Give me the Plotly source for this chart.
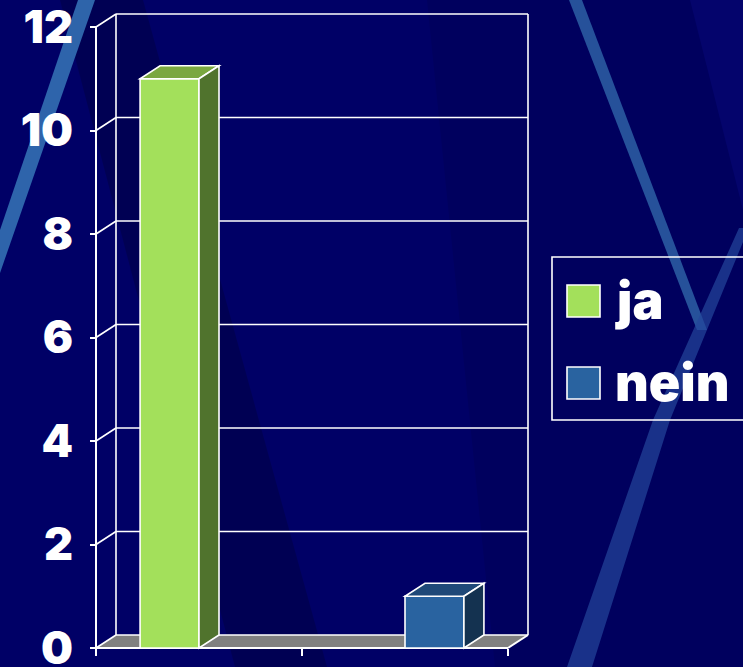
import plotly.graph_objects as go

# ---------------- data ----------------
categories = ["", " "]
series_names = ["ja", "nein"]
ja_values = [11, None]
nein_values = [None, 1]
y_ticks = [0, 2, 4, 6, 8, 10, 12]
y_max = 12

# ---------------- style ----------------
BG = "#000066"
WHITE = "#ffffff"
FLOOR = "#808080"
colors = {
    "ja": {"front": "#a3e05b", "top": "#7aa840", "side": "#50732d"},
    "nein": {"front": "#2963a0", "top": "#1f4978", "side": "#143250"},
}
FONT = dict(family="Inter, DejaVu Sans", size=45, color=WHITE, weight=900)

W, H = 743, 667
# pixel geometry of the pseudo-3D plane
X0_PX, CAT_PX = 96, 206        # front-left corner, width of a category
Y0_PX, UNIT_PX = 648, 51.75    # front floor line, pixels per unit
DEPTH_X_PX, DEPTH_Y_PX = 20, 13
BARGAP = 0.428

DX = DEPTH_X_PX / CAT_PX
DY = DEPTH_Y_PX / UNIT_PX
n_cat = len(categories)
x_range = [-X0_PX / CAT_PX, (W - X0_PX) / CAT_PX]
y_range = [(Y0_PX - H) / UNIT_PX, Y0_PX / UNIT_PX]


def px(x):
    return x / W


def py(y):
    return 1 - y / H


fig = go.Figure()
shapes = []

# ---------------- background streaks (decoration) ----------------
def poly(points, color, layer="below"):
    path = "M " + " L ".join(f"{px(a)},{py(b)}" for a, b in points) + " Z"
    return dict(type="path", xref="paper", yref="paper", path=path,
                fillcolor=color, line=dict(width=0), layer=layer)

shapes += [
    poly([(60, 0), (143, 0), (327, 667), (235, 667)], "rgba(0,0,0,0.18)"),
    poly([(427, 0), (743, 0), (743, 667), (495, 667)], "rgba(0,0,0,0.08)"),
    poly([(690, 0), (743, 0), (743, 210)], "rgba(20,20,160,0.22)"),
    poly([(78, 0), (95, 0), (0, 273), (0, 230)], "rgba(48,105,175,0.95)"),
    poly([(569, 0), (582, 0), (707, 330), (697, 330)], "rgba(45,95,165,0.85)"),
    poly([(739, 228), (743, 228), (743, 242), (670, 420), (592, 667), (567, 667), (653, 420)],
         "rgba(35,70,155,0.7)"),
]

# ---------------- 3D frame (data coordinates) ----------------
def dpath(points):
    return "M " + " L ".join(f"{a},{b}" for a, b in points) + " Z"

# floor
shapes.append(dict(type="path", xref="x", yref="y",
                   path=dpath([(0, 0), (n_cat, 0), (n_cat + DX, DY), (DX, DY)]),
                   fillcolor=FLOOR, line=dict(width=0), layer="below"))
LW = 1.6
def seg(x0, y0, x1, y1, w=LW, layer="below"):
    return dict(type="line", xref="x", yref="y", x0=x0, y0=y0, x1=x1, y1=y1,
                line=dict(color=WHITE, width=w), layer=layer)

for v in y_ticks:
    shapes.append(seg(DX, v + DY, n_cat + DX, v + DY))     # back-wall gridline
    shapes.append(seg(0, v, DX, v + DY))                   # side-wall connector
shapes.append(seg(DX, DY, DX, y_max + DY))
shapes.append(seg(n_cat + DX, DY, n_cat + DX, y_max + DY))
shapes.append(seg(0, 0, 0, y_max, w=2))
shapes.append(seg(0, 0, n_cat, 0, w=2))
shapes.append(seg(n_cat, 0, n_cat + DX, DY, w=2))

# ---------------- bars ----------------
x_pos = [i + 0.5 for i in range(n_cat)]
bar_w = (1 - BARGAP) / len(series_names)
for j, (name, vals) in enumerate(zip(series_names, [ja_values, nein_values])):
    off = -(1 - BARGAP) / 2 + j * bar_w
    c = colors[name]
    fig.add_trace(go.Bar(
        x=x_pos, y=vals, name=name, width=bar_w, offset=off,
        marker=dict(color=c["front"], line=dict(color=WHITE, width=1.6)),
        showlegend=False, hoverinfo="name+y",
    ))
    for xc, v in zip(x_pos, vals):
        if v is None:
            continue
        x0 = xc + off
        x1 = x0 + bar_w
        shapes.append(dict(type="path", xref="x", yref="y",
                           path=dpath([(x0, v), (x1, v), (x1 + DX, v + DY), (x0 + DX, v + DY)]),
                           fillcolor=c["top"], line=dict(color=WHITE, width=1.6), layer="above"))
        shapes.append(dict(type="path", xref="x", yref="y",
                           path=dpath([(x1, 0), (x1, v), (x1 + DX, v + DY), (x1 + DX, DY)]),
                           fillcolor=c["side"], line=dict(color=WHITE, width=1.6), layer="above"))

# ---------------- manual legend ----------------
annotations = []
shapes.append(dict(type="rect", xref="paper", yref="paper",
                   x0=px(552), x1=px(760), y0=py(420), y1=py(257),
                   line=dict(color=WHITE, width=1.6), fillcolor="rgba(0,0,0,0)"))
leg_rows = [(285, 317), (367, 399)]
for name, (t, b) in zip(series_names, leg_rows):
    shapes.append(dict(type="rect", xref="paper", yref="paper",
                       x0=px(567), x1=px(600), y0=py(b), y1=py(t),
                       fillcolor=colors[name]["front"], line=dict(color=WHITE, width=1.6)))
    annotations.append(dict(text=name, xref="paper", yref="paper",
                            x=px(613), y=py(b - 17), xanchor="left", yanchor="middle",
                            showarrow=False, font=dict(FONT, size=52)))

fig.update_layout(
    width=W, height=H,
    template="none",
    margin=dict(l=0, r=0, t=0, b=0),
    paper_bgcolor=BG, plot_bgcolor="rgba(0,0,0,0)",
    barmode="overlay",
    showlegend=False,
    shapes=shapes, annotations=annotations,
    xaxis=dict(range=x_range, domain=[0, 1], anchor="free", position=(H - Y0_PX) / H,
               tickmode="array", tickvals=list(range(n_cat + 1)), showticklabels=False,
               ticks="outside", ticklen=7, tickwidth=2, tickcolor=WHITE,
               showgrid=False, zeroline=False, showline=False, fixedrange=True),
    yaxis=dict(range=y_range, domain=[0, 1], anchor="free", position=X0_PX / W,
               tickmode="array", tickvals=y_ticks, ticktext=[str(v) for v in y_ticks],
               ticks="outside", ticklen=6, tickwidth=2, tickcolor=WHITE,
               ticklabelstandoff=8, ticklabeloverflow="allow", tickfont=FONT,
               showgrid=False, zeroline=False, showline=False, automargin=False, fixedrange=True),
)

fig.write_html("out.html", config={"displayModeBar": False},
               post_script="document.body.style.margin='0';document.body.style.background='#000066';")
